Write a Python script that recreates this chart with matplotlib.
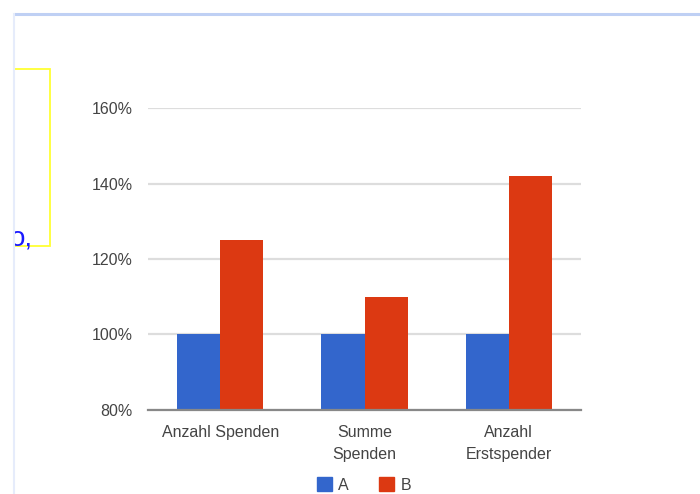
import matplotlib
matplotlib.use("Agg")
import matplotlib.pyplot as plt
import numpy as np
from matplotlib.patches import Rectangle, Patch

# data
categories = ["Anzahl Spenden", "Summe\nSpenden", "Anzahl\nErstspender"]
series_a = [100, 100, 100]
series_b = [125, 110, 142]
series_names = ["A", "B"]
y_ticks = [80, 100, 120, 140, 160]
tick_labels = [f"{t}%" for t in y_ticks]

blue = "#3366cc"
red = "#dc3912"
text_gray = "#444444"

plt.rcParams['font.family'] = ['Liberation Sans', 'DejaVu Sans']

W, H = 700, 494
fig = plt.figure(figsize=(W / 100, H / 100), dpi=100)

# screenshot frame: overlay axes in pixel coordinates
bg = fig.add_axes([0, 0, 1, 1], zorder=0)
bg.set_xlim(0, W)
bg.set_ylim(H, 0)
bg.axis('off')
bg.plot([14, W], [14, 14], color="#bfd0f4", lw=2.2, solid_capstyle='butt')
bg.plot([14, 14], [14, H], color="#e6ecfb", lw=1.5)
clip = Rectangle((15, 15), 36, 300, transform=bg.transData)
box = Rectangle((10, 69.5), 40, 176.5, fill=False, ec="#ffff33", lw=1.3)
bg.add_patch(box)
box.set_clip_path(clip)
txt = bg.text(10, 245, "o,", color="#1a1aff", fontsize=20, ha='left', va='baseline',
              family=['Liberation Sans', 'DejaVu Sans'])
txt.set_clip_on(True)
txt.set_clip_path(clip)

# chart
ax = fig.add_axes([148 / W, 1 - 410 / H, (581 - 148) / W, (410 - 108) / H], zorder=1)
ax.patch.set_alpha(0)
x = np.arange(len(categories))
w = 0.3
ax.bar(x - w / 2, series_a, width=w, bottom=0, color=blue, zorder=2)
ax.bar(x + w / 2, series_b, width=w, bottom=0, color=red, zorder=2)

ax.set_xlim(-0.5, len(categories) - 0.5)
ax.set_ylim(80, 160)
ax.set_yticks(y_ticks)
ax.set_yticklabels(tick_labels)
ax.set_xticks(x)
ax.set_xticklabels(categories, linespacing=1.6)
ax.tick_params(axis='both', length=0, labelsize=11.5, labelcolor=text_gray)
ax.tick_params(axis='y', pad=11)
ax.tick_params(axis='x', pad=11)
ax.grid(axis='y', color="#dddddd", lw=1.6, zorder=0)
for s in ['top', 'right', 'left']:
    ax.spines[s].set_visible(False)
ax.spines['bottom'].set_color("#888888")
ax.spines['bottom'].set_linewidth(1.6)
ax.spines['bottom'].set_zorder(3)

handles = [Patch(color=blue, label=series_names[0]), Patch(color=red, label=series_names[1])]
fig.legend(handles=handles, loc='center', bbox_to_anchor=(364 / W, 1 - 485 / H),
           ncol=2, frameon=False, fontsize=11.5, handlelength=0.95, handleheight=0.95,
           handletextpad=0.4, columnspacing=1.9, labelcolor=text_gray,
           borderpad=0)

fig.savefig("out.png", dpi=100)
